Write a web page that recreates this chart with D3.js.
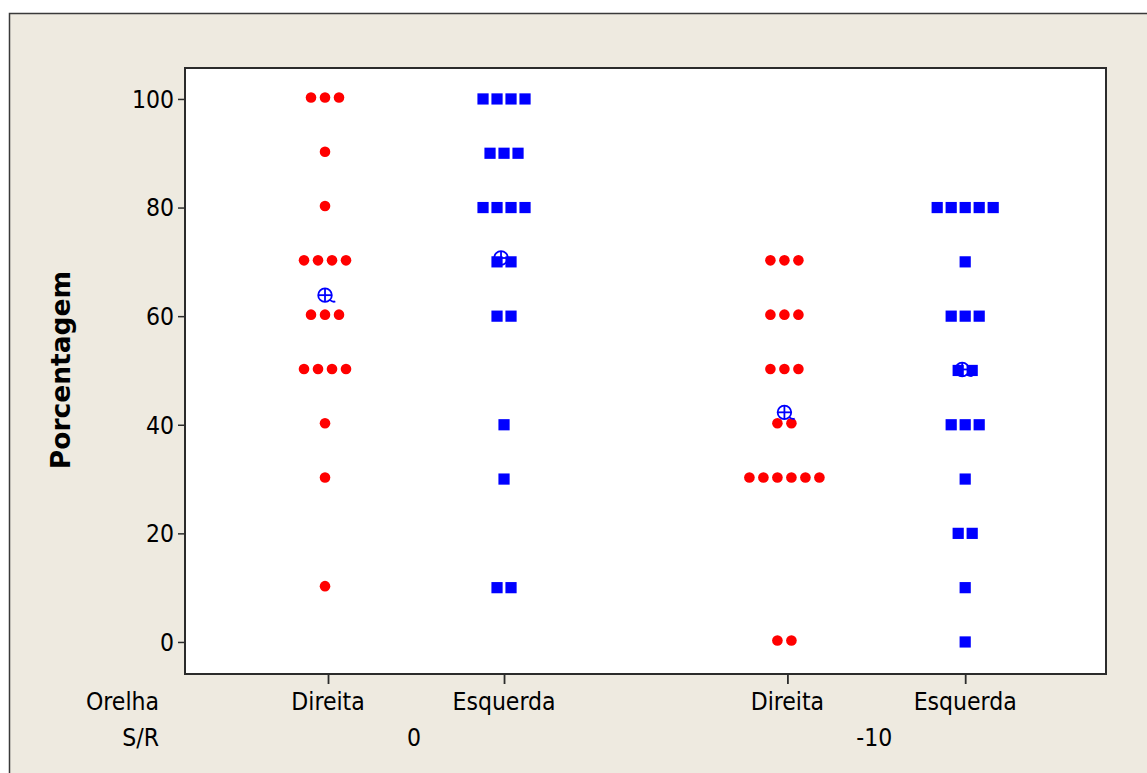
<!DOCTYPE html>
<html>
<head>
<meta charset="utf-8">
<script src="https://cdn.jsdelivr.net/npm/d3@7"></script>
<style>
  html, body { margin: 0; padding: 0; background: #ffffff; }
  svg { display: block; }
  .lbl { font-family: "DejaVu Sans Condensed", "DejaVu Sans", sans-serif; font-stretch: condensed; font-size: 24.5px; fill: #000; }
</style>
</head>
<body>
<svg id="chart" width="1147" height="773"></svg>
<script>
// Individual observations (percent) for each Orelha × S/R group
const orelha = ["Direita", "Esquerda", "Direita", "Esquerda"];
const sr = ["0", "-10"];
const direita0 = [100, 100, 100, 90, 80, 70, 70, 70, 70, 60, 60, 60, 50, 50, 50, 50, 40, 30, 10];
const esquerda0 = [100, 100, 100, 100, 90, 90, 90, 80, 80, 80, 80, 70, 70, 60, 60, 40, 30, 10, 10];
const direitaM10 = [70, 70, 70, 60, 60, 60, 50, 50, 50, 40, 40, 30, 30, 30, 30, 30, 30, 0, 0];
const esquerdaM10 = [80, 80, 80, 80, 80, 70, 60, 60, 60, 50, 50, 40, 40, 40, 30, 20, 20, 10, 0];
const yTicks = [0, 20, 40, 60, 80, 100];

const groups = [
  { values: direita0, shape: "circle" },
  { values: esquerda0, shape: "square" },
  { values: direitaM10, shape: "circle" },
  { values: esquerdaM10, shape: "square" }
];

// layout
const W = 1147, H = 773;
const plot = { left: 185, top: 68, right: 1106, bottom: 674 };
const groupPos = [0, 1, 2.61, 3.62];      // extra gap between the S/R blocks
const stackStep = 14;                      // horizontal spacing of stacked dots
const RED = "#ff0000", BLUE = "#0000ff";

const svg = d3.select("#chart");

// window background and frame
svg.append("rect").attr("x", 0).attr("y", 0).attr("width", W).attr("height", H).attr("fill", "#ffffff");
svg.append("rect").attr("x", 9.5).attr("y", 13.5).attr("width", W + 20).attr("height", H + 20)
  .attr("fill", "#eeeae0").attr("stroke", "#3a3a3a").attr("stroke-width", 1.5);

const x = d3.scaleLinear().domain([-0.8125, 4.42]).range([plot.left, plot.right]);
const y = d3.scaleLinear().domain([-5.9, 105.7]).range([plot.bottom, plot.top]);

// plot area
svg.append("rect")
  .attr("x", plot.left).attr("y", plot.top)
  .attr("width", plot.right - plot.left).attr("height", plot.bottom - plot.top)
  .attr("fill", "#ffffff").attr("stroke", "#2b2b2b").attr("stroke-width", 2);

// y axis
const yAxis = svg.append("g")
  .attr("transform", `translate(${plot.left},0)`)
  .call(d3.axisLeft(y).tickValues(yTicks).tickSize(7).tickPadding(4));
yAxis.select(".domain").remove();
yAxis.selectAll(".tick line").attr("stroke", "#2b2b2b").attr("stroke-width", 1.5);
yAxis.selectAll(".tick text").attr("class", "lbl").attr("font-family", null).attr("font-size", null)
  .attr("x", -11).attr("dy", "0.34em");

// y axis title
svg.append("text")
  .attr("transform", `translate(70,${(plot.top + plot.bottom) / 2 - 1}) rotate(-90)`)
  .attr("text-anchor", "middle")
  .style("font-family", "'DejaVu Sans', sans-serif")
  .style("font-weight", "bold")
  .style("font-size", "26.5px")
  .text("Porcentagem");

// x axis ticks (one per group)
const xAxis = svg.append("g")
  .attr("transform", `translate(0,${plot.bottom})`)
  .call(d3.axisBottom(x).tickValues(groupPos).tickSize(10).tickFormat(""));
xAxis.select(".domain").remove();
xAxis.selectAll(".tick line").attr("stroke", "#2b2b2b").attr("stroke-width", 1.8);

// x category labels
svg.selectAll("text.orelha").data(orelha).join("text")
  .attr("class", "lbl orelha")
  .attr("x", (d, i) => x(groupPos[i])).attr("y", 710)
  .attr("text-anchor", "middle").text(d => d);

svg.selectAll("text.sr").data(sr).join("text")
  .attr("class", "lbl sr")
  .attr("x", (d, i) => (x(groupPos[2 * i]) + x(groupPos[2 * i + 1])) / 2 - 2).attr("y", 746)
  .attr("text-anchor", "middle").text(d => d);

svg.append("text").attr("class", "lbl").attr("x", 159).attr("y", 710).attr("text-anchor", "end").text("Orelha");
svg.append("text").attr("class", "lbl").attr("x", 159).attr("y", 746).attr("text-anchor", "end").text("S/R");

// dots: stack equal values side by side, centred on the group position
const marks = svg.append("g");
groups.forEach((g, gi) => {
  const counts = d3.rollups(g.values, v => v.length, v => v);
  const pts = [];
  counts.forEach(([val, n]) => {
    for (let k = 0; k < n; k++) pts.push({ val, off: (k - (n - 1) / 2) * stackStep });
  });
  const cx = x(groupPos[gi]);
  if (g.shape === "circle") {
    marks.selectAll(null).data(pts).join("circle")
      .attr("cx", d => cx - 3 + d.off)
      .attr("cy", d => y(d.val) - 1.5)
      .attr("r", 5.3)
      .attr("fill", RED);
  } else {
    const s = 11.2;
    marks.selectAll(null).data(pts).join("rect")
      .attr("x", d => cx + d.off - s / 2)
      .attr("y", d => y(d.val) - s / 2)
      .attr("width", s).attr("height", s)
      .attr("fill", BLUE);
  }
});

// group means: circle with crosshair and a small tail
groups.forEach((g, gi) => {
  const m = d3.mean(g.values);
  const r = 6.8;
  const sym = svg.append("g")
    .attr("transform", `translate(${x(groupPos[gi]) - 3},${y(m) - 1})`)
    .attr("fill", "none").attr("stroke", BLUE).attr("stroke-width", 1.8);
  sym.append("circle").attr("r", r);
  sym.append("line").attr("x1", 0).attr("x2", 0).attr("y1", -r).attr("y2", r);
  sym.append("line").attr("x1", -r).attr("x2", r).attr("y1", 0).attr("y2", 0);
  sym.append("path").attr("d", `M${r * 0.7},${r * 0.7} Q${r + 1},${r + 0.5} ${r + 3.5},${r - 0.5}`);
});
</script>
</body>
</html>
